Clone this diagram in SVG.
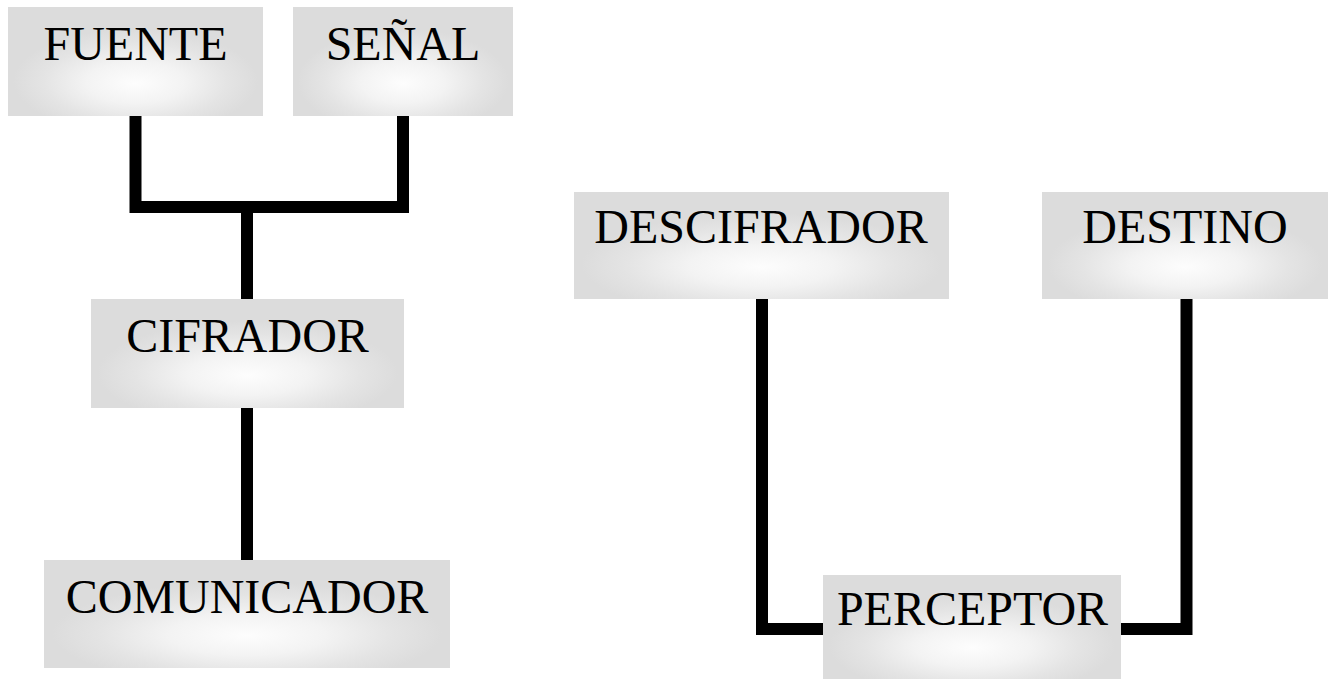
<svg xmlns="http://www.w3.org/2000/svg" width="1332" height="679" viewBox="0 0 1332 679">
<defs>
<radialGradient id="g" cx="0.5" cy="0.68" r="0.48" fx="0.5" fy="0.7">
<stop offset="0" stop-color="#fdfdfd"/>
<stop offset="0.4" stop-color="#f3f3f3"/>
<stop offset="0.75" stop-color="#e4e4e4"/>
<stop offset="1" stop-color="#dcdcdc"/>
</radialGradient>
</defs>
<style>
.box{fill:url(#g);}
.lbl{font-family:"Liberation Serif","Times New Roman",serif;font-size:48px;fill:#000;text-anchor:middle;}
.con{fill:none;stroke:#000;stroke-width:12;stroke-linecap:butt;stroke-linejoin:miter;}
</style>
<rect width="1332" height="679" fill="#fff"/>
<g id="connectors">
<path class="con" d="M135.5 116 V207 H403 V116"/>
<path class="con" d="M247 207 V299"/>
<path class="con" d="M247 408 V560"/>
<path class="con" d="M762 299 V629 H823"/>
<path class="con" d="M1121 629 H1186.5 V299"/>
</g>
<g id="fuente"><rect class="box" x="8" y="7" width="255" height="109"/><text class="lbl" x="135.5" y="60">FUENTE</text></g>
<g id="senal"><rect class="box" x="293" y="7" width="220" height="109"/><text class="lbl" x="403" y="60">SEÑAL</text></g>
<g id="cifrador"><rect class="box" x="91" y="299" width="313" height="109"/><text class="lbl" x="247.5" y="352">CIFRADOR</text></g>
<g id="comunicador"><rect class="box" x="44" y="560" width="406" height="108"/><text class="lbl" x="247" y="613">COMUNICADOR</text></g>
<g id="descifrador"><rect class="box" x="574" y="192" width="375" height="107"/><text class="lbl" x="761" y="243">DESCIFRADOR</text></g>
<g id="destino"><rect class="box" x="1042" y="192" width="286" height="107"/><text class="lbl" x="1185" y="243">DESTINO</text></g>
<g id="perceptor"><rect class="box" x="823" y="575" width="298" height="104"/><text class="lbl" x="972.5" y="625">PERCEPTOR</text></g>
</svg>
